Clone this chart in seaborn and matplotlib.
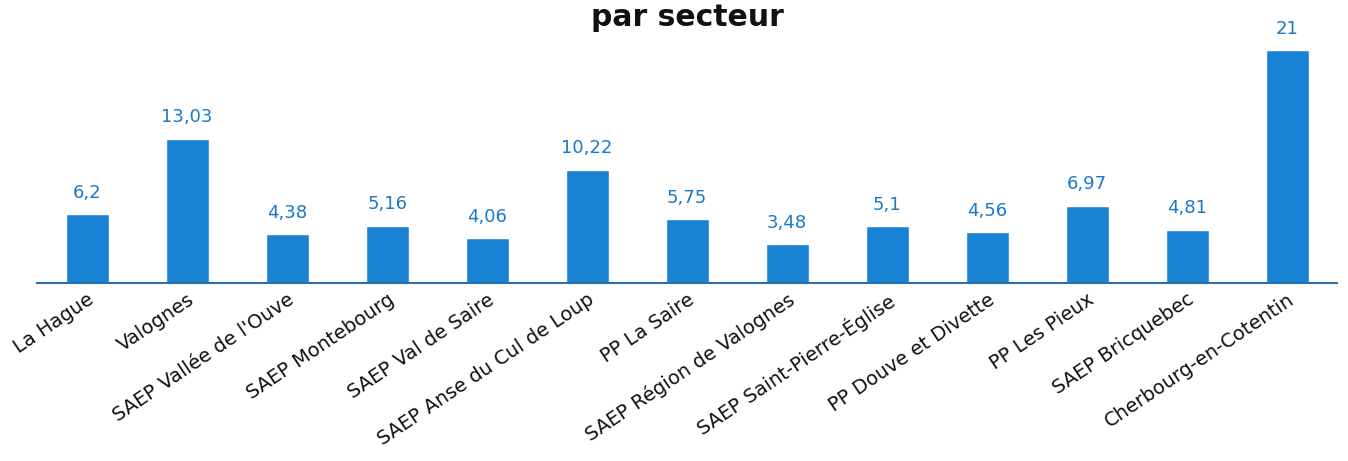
import pandas as pd
import seaborn as sns
from matplotlib import pyplot as plt

secteurs = ["La Hague", "Valognes", "SAEP Vallée de l'Ouve", "SAEP Montebourg",
            "SAEP Val de Saire", "SAEP Anse du Cul de Loup", "PP La Saire",
            "SAEP Région de Valognes", "SAEP Saint-Pierre-Église",
            "PP Douve et Divette", "PP Les Pieux", "SAEP Bricquebec",
            "Cherbourg-en-Cotentin"]
valeurs = [6.2, 13.03, 4.38, 5.16, 4.06, 10.22, 5.75, 3.48, 5.1, 4.56, 6.97, 4.81, 21]

df = pd.DataFrame({"secteur": secteurs, "valeur": valeurs})

sns.set_style("white")
plt.rcParams['font.family'] = ['DejaVu Sans']

fig = plt.figure(figsize=(13.48, 4.61), dpi=100)
ax = fig.add_axes([0.0275, 0.386, 0.9645, 0.527])

sns.barplot(x="secteur", y="valeur", data=df, color="#1a82d2", width=0.43,
            saturation=1, ax=ax)

# étiquettes de valeur au format français
etiquettes = [f"{v:g}".replace(".", ",") for v in valeurs]
ax.bar_label(ax.containers[0], labels=etiquettes, padding=9, fontsize=13,
             color="#1a78c8", clip_on=False)

ax.set_xlim(-0.5, 12.5)
ax.set_ylim(0, 21.9)
ax.set_xlabel("")
ax.set_ylabel("")
ax.set_yticks([])
for s in ["top", "right", "left"]:
    ax.spines[s].set_visible(False)
ax.spines["bottom"].set_color("#2f6fa8")
ax.spines["bottom"].set_linewidth(1.5)
ax.tick_params(axis="x", length=0, pad=5)
plt.setp(ax.get_xticklabels(), rotation=34, ha="right", rotation_mode="anchor",
         fontsize=14, color="#111111")

fig.text(0.51, 0.962, "par secteur", ha="center", va="center",
         fontsize=21.5, fontweight="bold", color="#111111")

fig.savefig("out.png", dpi=100)
